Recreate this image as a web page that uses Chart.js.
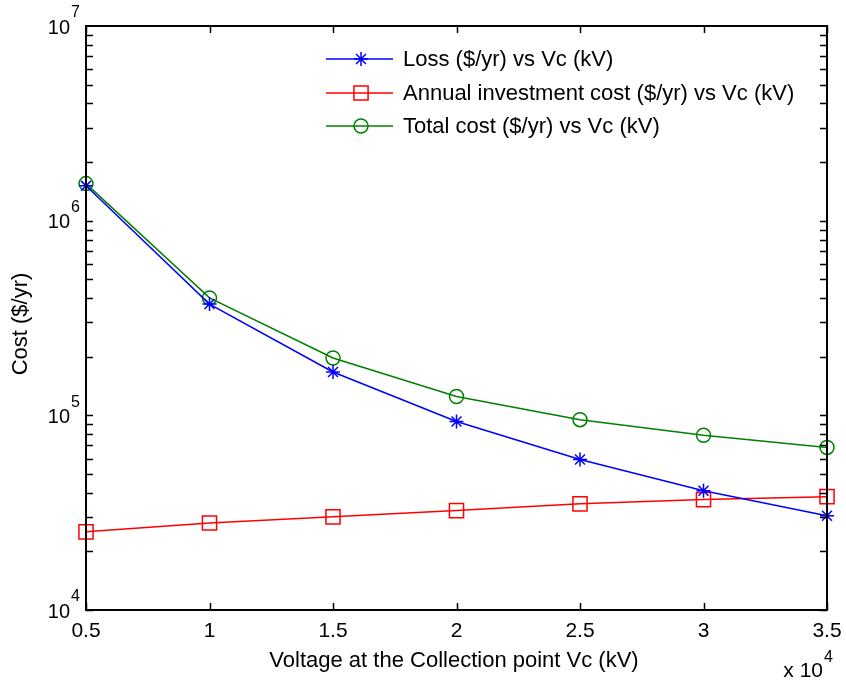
<!DOCTYPE html>
<html>
<head>
<meta charset="utf-8">
<script src="https://cdn.jsdelivr.net/npm/chart.js@4"></script>
<style>
  body { margin: 0; background: #fff; }
  #wrap { width: 846px; height: 681px; }
</style>
</head>
<body>
<div id="wrap"><canvas id="chart" width="846" height="681"></canvas></div>
<script>
// voltage at collection point (V), shown as x 10^4
const voltage = [5000, 10000, 15000, 20000, 25000, 30000, 35000];
const loss = [1510000, 373000, 167000, 93000, 59300, 41000, 30500];
const investment = [25200, 28000, 30100, 32400, 35100, 36900, 38200];
const total = [1550000, 401000, 197000, 125000, 95000, 79000, 68400];

const xTicks = [5000, 10000, 15000, 20000, 25000, 30000, 35000];
const xTickLabels = ["0.5", "1", "1.5", "2", "2.5", "3", "3.5"];
const yDecades = [4, 5, 6, 7];

const FONT = "'Liberation Sans', Arial, sans-serif";

function pts(ys) {
  return voltage.map((v, i) => ({ x: v, y: ys[i] }));
}

const matlabAxes = {
  id: "matlabAxes",
  afterDraw(chart) {
    const ctx = chart.ctx;
    const a = chart.chartArea;
    const xs = chart.scales.x;
    const ys = chart.scales.y;
    ctx.save();

    // box
    ctx.strokeStyle = "#000";
    ctx.lineWidth = 2;
    ctx.strokeRect(a.left, a.top, a.right - a.left, a.bottom - a.top);

    // x ticks, inward on top and bottom
    ctx.lineWidth = 1.5;
    ctx.beginPath();
    xTicks.forEach(v => {
      const px = Math.round(xs.getPixelForValue(v)) + 0.5;
      ctx.moveTo(px, a.bottom); ctx.lineTo(px, a.bottom - 7);
      ctx.moveTo(px, a.top); ctx.lineTo(px, a.top + 7);
    });
    // y ticks, decades + minor
    for (let d = yDecades[0]; d < yDecades[yDecades.length - 1]; d++) {
      for (let m = 1; m <= 9; m++) {
        const py = Math.round(ys.getPixelForValue(m * Math.pow(10, d))) + 0.5;
        ctx.moveTo(a.left, py); ctx.lineTo(a.left + 7, py);
        ctx.moveTo(a.right, py); ctx.lineTo(a.right - 7, py);
      }
    }
    ctx.stroke();

    // x tick labels
    ctx.fillStyle = "#000";
    ctx.font = "21px " + FONT;
    ctx.textAlign = "center";
    ctx.textBaseline = "middle";
    xTicks.forEach((v, i) => {
      ctx.fillText(xTickLabels[i], xs.getPixelForValue(v), a.bottom + 21);
    });

    // y tick labels 10^n
    yDecades.forEach(d => {
      const py = ys.getPixelForValue(Math.pow(10, d));
      ctx.font = "16px " + FONT;
      ctx.textAlign = "left";
      ctx.fillText(String(d), a.left - 15, py - 13);
      ctx.font = "20px " + FONT;
      ctx.textAlign = "right";
      ctx.fillText("10", a.left - 16, py + 2);
    });

    // x 10^4 multiplier
    ctx.font = "21px " + FONT;
    ctx.textAlign = "right";
    ctx.fillText("x 10", a.right - 4, a.bottom + 61);
    ctx.font = "16px " + FONT;
    ctx.textAlign = "left";
    ctx.fillText("4", a.right - 3, a.bottom + 48);

    // axis titles
    ctx.font = "22px " + FONT;
    ctx.textAlign = "center";
    ctx.fillText("Voltage at the Collection point Vc (kV)", 454, a.bottom + 51);
    ctx.save();
    ctx.translate(21, 324);
    ctx.rotate(-Math.PI / 2);
    ctx.fillText("Cost ($/yr)", 0, 0);
    ctx.restore();

    // legend
    const rowsY = [59, 93, 126];
    chart.data.datasets.forEach((ds, i) => {
      const y = rowsY[i];
      ctx.strokeStyle = ds.borderColor;
      ctx.lineWidth = ds.borderWidth;
      ctx.beginPath();
      ctx.moveTo(326, y); ctx.lineTo(393, y);
      ctx.stroke();
      ctx.fillStyle = "rgba(0,0,0,0)";
      ctx.strokeStyle = ds.pointBorderColor;
      ctx.lineWidth = ds.pointBorderWidth;
      Chart.helpers.drawPoint(ctx, {
        pointStyle: ds.pointStyle,
        radius: ds.pointRadius,
        borderWidth: ds.pointBorderWidth,
        rotation: 0
      }, 361, y);
      ctx.fillStyle = "#000";
      ctx.font = "22px " + FONT;
      ctx.textAlign = "left";
      ctx.textBaseline = "middle";
      ctx.fillText(ds.label, 403, y + 1);
    });

    ctx.restore();
  }
};

const common = {
  fill: false,
  tension: 0,
  borderWidth: 1.5,
  pointBorderWidth: 1.5,
  backgroundColor: "rgba(0,0,0,0)",
  pointBackgroundColor: "rgba(0,0,0,0)",
  clip: false
};

new Chart(document.getElementById("chart"), {
  type: "line",
  data: {
    datasets: [
      Object.assign({}, common, {
        label: "Loss ($/yr) vs Vc (kV)",
        data: pts(loss),
        borderColor: "#0000ff",
        pointBorderColor: "#0000ff",
        pointStyle: "star",
        pointRadius: 7
      }),
      Object.assign({}, common, {
        label: "Annual investment cost ($/yr) vs Vc (kV)",
        data: pts(investment),
        borderColor: "#ff0000",
        pointBorderColor: "#ff0000",
        pointStyle: "rect",
        pointRadius: 10
      }),
      Object.assign({}, common, {
        label: "Total cost ($/yr) vs Vc (kV)",
        data: pts(total),
        borderColor: "#008000",
        pointBorderColor: "#008000",
        pointStyle: "circle",
        pointRadius: 7
      })
    ]
  },
  options: {
    responsive: false,
    animation: false,
    events: [],
    layout: { padding: { left: 86, top: 26, right: 19, bottom: 71 } },
    plugins: { legend: { display: false }, tooltip: { enabled: false } },
    scales: {
      x: { type: "linear", min: 5000, max: 35000, display: false },
      y: { type: "logarithmic", min: 10000, max: 10000000, display: false }
    }
  },
  plugins: [matlabAxes]
});
</script>
</body>
</html>
